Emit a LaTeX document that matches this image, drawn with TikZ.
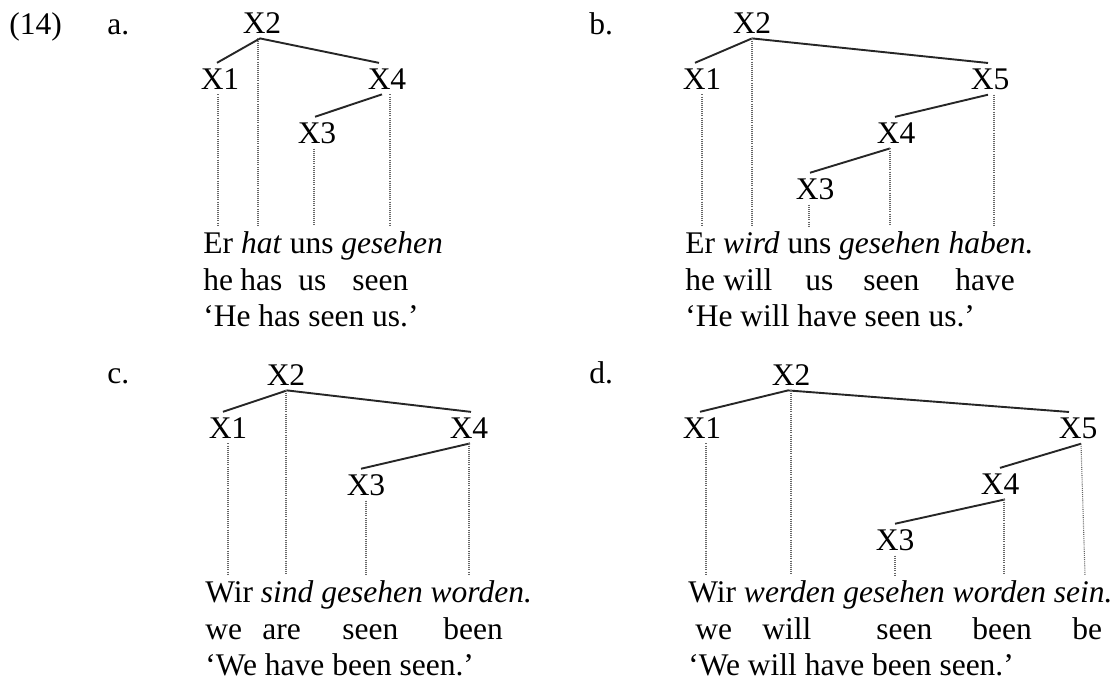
\documentclass[tikz,border=0pt]{standalone}
\usepackage{fontspec}
\setmainfont{Liberation Serif}
\begin{document}
\begin{tikzpicture}[x=0.5pt,y=-0.5pt,
  every node/.style={font=\fontsize{15.75pt}{18pt}\selectfont},
  lab/.style={anchor=base, inner xsep=0pt, inner ysep=2.5pt},
  txt/.style={anchor=base west, inner xsep=0pt, inner ysep=2.5pt},
  tree/.style={line width=0.95pt, black!85},
  dotline/.style={line width=0.55pt, black!60, dash pattern=on 0.5pt off 0.55pt}]
\useasboundingbox[fill=white] (0,0) rectangle (1120,682);

% example labels
\node[txt] (ex) at (9,34) {(14)};
\node[txt] (pa) at (107,34) {a.};
\node[txt] (pb) at (589,34) {b.};
\node[txt] (pc) at (107,383) {c.};
\node[txt] (pd) at (589,383) {d.};

% ---------- a ----------
\node[lab] (a2) at (262,33) {X2};
\node[lab] (a1) at (220,89) {X1};
\node[lab] (a4) at (387,89) {X4};
\node[lab] (a3) at (317,143) {X3};
\node[txt] (la) at (203,253) {Er \textit{hat} uns \textit{gesehen}};
\node[txt] (ga1) at (203,290) {he};
\node[txt] (ga2) at (240,290) {has};
\node[txt] (ga3) at (298,290) {us};
\node[txt] (ga4) at (352,290) {seen};
\node[txt] (ta) at (203,326) {‘He has seen us.’};
\draw[tree] ([xshift=-1pt]a2.south) -- ([xshift=-1.5pt]a1.north);
\draw[tree] ([xshift=-1pt]a2.south) -- ([xshift=-4pt]a4.north);
\draw[tree] ([xshift=-2.5pt]a4.south) -- ([xshift=-1pt]a3.north);
\draw[dotline] ([xshift=-1pt]a1.south) -- ([xshift=-1pt]a1.south |- la.north);
\draw[dotline] ([xshift=-2pt]a2.south) -- ([xshift=-2pt]a2.south |- la.north);
\draw[dotline] ([xshift=-1.5pt]a3.south) -- ([xshift=-1.5pt]a3.south |- la.north);
\draw[dotline] ([xshift=1.5pt]a4.south) -- ([xshift=1.5pt]a4.south |- la.north);

% ---------- b ----------
\node[lab] (b2) at (752,33) {X2};
\node[lab] (b1) at (702,89) {X1};
\node[lab] (b5) at (990,89) {X5};
\node[lab] (b4) at (896,143) {X4};
\node[lab] (b3) at (815,199) {X3};
\node[txt] (lb) at (685,253) {Er \textit{wird} uns \textit{gesehen haben.}};
\node[txt] (gb1) at (685,290) {he};
\node[txt] (gb2) at (723,290) {will};
\node[txt] (gb3) at (805,290) {us};
\node[txt] (gb4) at (863,290) {seen};
\node[txt] (gb5) at (955,290) {have};
\node[txt] (tb) at (685,326) {‘He will have seen us.’};
\draw[tree] (b2.south) -- ([xshift=-3.5pt]b1.north);
\draw[tree] (b2.south) -- ([xshift=-1pt]b5.north);
\draw[tree] ([xshift=-1pt]b5.south) -- ([xshift=-0.5pt]b4.north);
\draw[tree] ([xshift=-3pt]b4.south) -- ([xshift=-2.5pt]b3.north);
\draw[dotline] (b1.south) -- (b1.south |- lb.north);
\draw[dotline] (b2.south) -- (b2.south |- lb.north);
\draw[dotline] ([xshift=-3pt]b3.south) -- ([xshift=-3pt]b3.south |- lb.north);
\draw[dotline] ([xshift=-3pt]b4.south) -- ([xshift=-3pt]b4.south |- lb.north);
\draw[dotline] ([xshift=2pt]b5.south) -- ([xshift=2pt]b5.south |- lb.north);

% ---------- c ----------
\node[lab] (c2) at (286,385) {X2};
\node[lab] (c1) at (228,438) {X1};
\node[lab] (c4) at (469,438) {X4};
\node[lab] (c3) at (366,495) {X3};
\node[txt] (lc) at (205,602) {Wir \textit{sind gesehen worden.}};
\node[txt] (gc1) at (205,639) {we};
\node[txt] (gc2) at (262,639) {are};
\node[txt] (gc3) at (342,639) {seen};
\node[txt] (gc4) at (443,639) {been};
\node[txt] (tc) at (205,675) {‘We have been seen.’};
\draw[tree] ([xshift=0.5pt]c2.south) -- ([xshift=-2.5pt]c1.north);
\draw[tree] ([xshift=0.5pt]c2.south) -- ([xshift=1pt]c4.north);
\draw[tree] ([xshift=0.5pt]c4.south) -- ([xshift=-2.5pt]c3.north);
\draw[dotline] (c1.south) -- (c1.south |- lc.north);
\draw[dotline] (c2.south) -- (c2.south |- lc.north);
\draw[dotline] (c3.south) -- (c3.south |- lc.north);
\draw[dotline] (c4.south) -- (c4.south |- lc.north);

% ---------- d ----------
\node[lab] (d2) at (791,385) {X2};
\node[lab] (d1) at (702,438) {X1};
\node[lab] (d5) at (1078,438) {X5};
\node[lab] (d4) at (1000,494) {X4};
\node[lab] (d3) at (895,550) {X3};
\node[txt] (ld) at (688,602) {Wir \textit{werden gesehen worden sein.}};
\node[txt] (gd1) at (695,639) {we};
\node[txt] (gd2) at (762,639) {will};
\node[txt] (gd3) at (876,639) {seen};
\node[txt] (gd4) at (972,639) {been};
\node[txt] (gd5) at (1072,639) {be};
\node[txt] (td) at (688,675) {‘We will have been seen.’};
\draw[tree] ([xshift=-1.5pt]d2.south) -- ([xshift=-1pt]d1.north);
\draw[tree] ([xshift=-1.5pt]d2.south) -- ([xshift=-4.5pt]d5.north);
\draw[tree] ([xshift=1.5pt]d5.south) -- (d4.north);
\draw[tree] ([xshift=2.5pt]d4.south) -- (d3.north);
\draw[dotline] ([xshift=2pt]d1.south) -- ([xshift=2pt]d1.south |- ld.north);
\draw[dotline] (d2.south) -- (d2.south |- ld.north);
\draw[dotline] (d3.south) -- (d3.south |- ld.north);
\draw[dotline] ([xshift=2pt]d4.south) -- ([xshift=2pt]d4.south |- ld.north);
\draw[dotline] ([xshift=1.5pt]d5.south) -- ([xshift=3.5pt]d5.south |- ld.north);
\end{tikzpicture}
\end{document}
